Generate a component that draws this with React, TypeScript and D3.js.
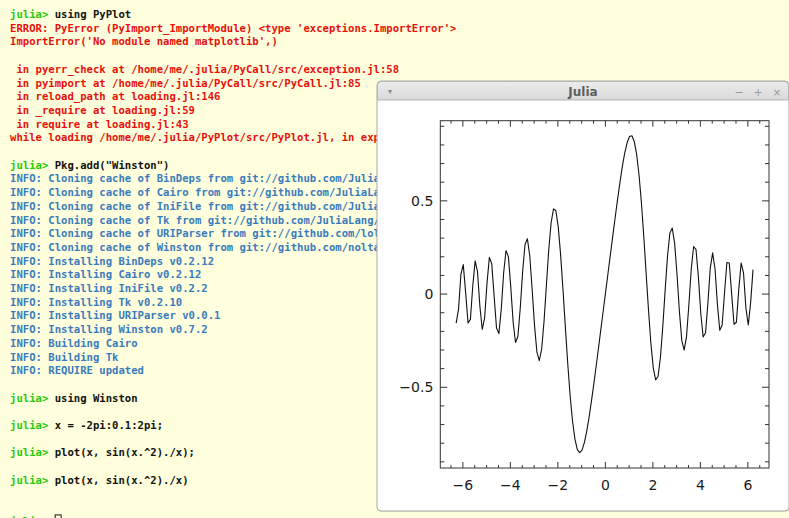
import * as d3 from 'd3';

const XS = [
  -6.283, -6.183, -6.083, -5.983, -5.883, -5.783, -5.683, -5.583, -5.483, -5.383,
  -5.283, -5.183, -5.083, -4.983, -4.883, -4.783, -4.683, -4.583, -4.483, -4.383,
  -4.283, -4.183, -4.083, -3.983, -3.883, -3.783, -3.683, -3.583, -3.483, -3.383,
  -3.283, -3.183, -3.083, -2.983, -2.883, -2.783, -2.683, -2.583, -2.483, -2.383,
  -2.283, -2.183, -2.083, -1.983, -1.883, -1.783, -1.683, -1.583, -1.483, -1.383,
  -1.283, -1.183, -1.083, -0.983, -0.883, -0.783, -0.683, -0.583, -0.483, -0.383,
  -0.283, -0.183, -0.083, 0.017, 0.117, 0.217, 0.317, 0.417, 0.517, 0.617,
  0.717, 0.817, 0.917, 1.017, 1.117, 1.217, 1.317, 1.417, 1.517, 1.617,
  1.717, 1.817, 1.917, 2.017, 2.117, 2.217, 2.317, 2.417, 2.517, 2.617,
  2.717, 2.817, 2.917, 3.017, 3.117, 3.217, 3.317, 3.417, 3.517, 3.617,
  3.717, 3.817, 3.917, 4.017, 4.117, 4.217, 4.317, 4.417, 4.517, 4.617,
  4.717, 4.817, 4.917, 5.017, 5.117, 5.217, 5.317, 5.417, 5.517, 5.617,
  5.717, 5.817, 5.917, 6.017, 6.117, 6.217,
];

const YS = [
  -0.156, -0.082, 0.105, 0.158, 0.009, -0.155, -0.136, 0.043, 0.178, 0.12,
  -0.067, -0.19, -0.128, 0.059, 0.197, 0.162, -0.013, -0.182, -0.212, -0.081,
  0.113, 0.233, 0.201, 0.039, -0.151, -0.26, -0.228, -0.075, 0.121, 0.266,
  0.297, 0.204, 0.026, -0.168, -0.311, -0.357, -0.296, -0.147, 0.047, 0.238,
  0.384, 0.457, 0.447, 0.359, 0.209, 0.021, -0.18, -0.375, -0.545, -0.681,
  -0.777, -0.833, -0.851, -0.837, -0.796, -0.735, -0.659, -0.572, -0.479, -0.382,
  -0.283, -0.183, -0.083, 0.017, 0.117, 0.217, 0.316, 0.415, 0.511, 0.602,
  0.686, 0.758, 0.813, 0.845, 0.849, 0.818, 0.749, 0.64, 0.491, 0.311,
  0.112, -0.087, -0.265, -0.396, -0.46, -0.442, -0.342, -0.177, 0.02, 0.204,
  0.328, 0.354, 0.272, 0.105, -0.092, -0.248, -0.301, -0.228, -0.056, 0.136,
  0.255, 0.238, 0.092, -0.103, -0.23, -0.208, -0.049, 0.139, 0.221, 0.136,
  -0.054, -0.194, -0.166, 0.007, 0.169, 0.167, 0.001, -0.162, -0.151, 0.024,
  0.167, 0.114, -0.074, -0.166, -0.046, 0.131,
];

const X_TICKS = [-6, -4, -2, 0, 2, 4, 6];
const X_TICK_LABELS = ['−6', '−4', '−2', '0', '2', '4', '6'];
const Y_TICKS = [-0.5, 0, 0.5];
const Y_TICK_LABELS = ['−0.5', '0', '0.5'];

type Kind = 'prompt' | 'cmd' | 'err' | 'info';
type Line = [Kind, string][];

const P = (cmd: string): Line => [['prompt', 'julia> '], ['cmd', cmd]];
const E = (s: string): Line => [['err', s]];
const I = (s: string): Line => [['info', s]];

const TERMINAL: Line[] = [
  P('using PyPlot'),
  E("ERROR: PyError (PyImport_ImportModule) <type 'exceptions.ImportError'>"),
  E("ImportError('No module named matplotlib',)"),
  [],
  E(' in pyerr_check at /home/me/.julia/PyCall/src/exception.jl:58'),
  E(' in pyimport at /home/me/.julia/PyCall/src/PyCall.jl:85'),
  E(' in reload_path at loading.jl:146'),
  E(' in _require at loading.jl:59'),
  E(' in require at loading.jl:43'),
  E('while loading /home/me/.julia/PyPlot/src/PyPlot.jl, in expression starting on line 1'),
  [],
  P('Pkg.add("Winston")'),
  I('INFO: Cloning cache of BinDeps from git://github.com/JuliaLang/BinDeps.jl.git'),
  I('INFO: Cloning cache of Cairo from git://github.com/JuliaLang/Cairo.jl.git'),
  I('INFO: Cloning cache of IniFile from git://github.com/JuliaLang/IniFile.jl.git'),
  I('INFO: Cloning cache of Tk from git://github.com/JuliaLang/Tk.jl.git'),
  I('INFO: Cloning cache of URIParser from git://github.com/loladiro/URIParser.jl.git'),
  I('INFO: Cloning cache of Winston from git://github.com/nolta/Winston.jl.git'),
  I('INFO: Installing BinDeps v0.2.12'),
  I('INFO: Installing Cairo v0.2.12'),
  I('INFO: Installing IniFile v0.2.2'),
  I('INFO: Installing Tk v0.2.10'),
  I('INFO: Installing URIParser v0.0.1'),
  I('INFO: Installing Winston v0.7.2'),
  I('INFO: Building Cairo'),
  I('INFO: Building Tk'),
  I('INFO: REQUIRE updated'),
  [],
  P('using Winston'),
  [],
  P('x = -2pi:0.1:2pi;'),
  [],
  P('plot(x, sin(x.^2)./x);'),
  [],
  P('plot(x, sin(x.^2)./x)'),
  [],
  [],
  P(''),
];

const COLORS: Record<Kind, string> = {
  prompt: '#1fcc0f',
  cmd: '#111111',
  err: '#e8100c',
  info: '#3a7bbd',
};

const W = 789;
const H = 518;
const FONT_SIZE = 10.6;
const CHAR_W = 6.38;
const LINE_H = 13.7;
const TEXT_X = 10;

export default function App() {
  const win = { x: 377, y: 81, w: 412, h: 430, bar: 19 };
  const frame = { left: 440.3, right: 769, top: 120.7, bottom: 468 };

  const x = d3.scaleLinear().domain([-6.95, 6.89]).range([frame.left, frame.right]);
  const y = d3.scaleLinear().domain([-0.933, 0.93]).range([frame.bottom, frame.top]);

  const line = d3
    .line<number>()
    .x((_, i) => x(XS[i]))
    .y((d) => y(d));

  const xMinor = d3.range(-6.5, 6.51, 0.5).filter((v) => Math.abs(v % 2) > 1e-6);
  const yMinor = d3.range(-0.9, 0.91, 0.1).filter((v) => Math.abs(Math.round(v * 10) % 5) !== 0);

  const lastLine = TERMINAL.length - 1;
  const lineY = (i: number) => 15 + i * LINE_H;
  // lines hidden behind the plot window only show up to its left edge
  const maxCols = (i: number) => {
    const ly = lineY(i);
    if (ly + 6 < win.y || ly - 6 > win.y + win.h) return Infinity;
    return Math.ceil((win.x - TEXT_X) / CHAR_W);
  };

  return (
    <svg
      width={W}
      height={H}
      style={{ position: 'absolute', left: 0, top: 0 }}
      xmlns="http://www.w3.org/2000/svg"
    >
      <defs>
        <linearGradient id="bar" x1="0" y1="0" x2="0" y2="1">
          <stop offset="0" stopColor="#ececec" />
          <stop offset="1" stopColor="#d9d9d9" />
        </linearGradient>
      </defs>
      <rect width={W} height={H} fill="#ffffdd" />

      {/* terminal */}
      <g fontFamily="'DejaVu Sans Mono', monospace" fontSize={FONT_SIZE} fontWeight="bold">
        {TERMINAL.map((segs, i) => {
          let col = 0;
          const limit = maxCols(i);
          return (
            <text key={i} x={TEXT_X} y={lineY(i) + 3} xmlSpace="preserve" style={{ whiteSpace: 'pre' }}>
              {segs.map(([kind, s], j) => {
                const shown = s.slice(0, Math.max(0, limit - col));
                const t = (
                  <tspan key={j} x={TEXT_X + col * CHAR_W} fill={COLORS[kind]}>
                    {shown}
                  </tspan>
                );
                col += s.length;
                return t;
              })}
            </text>
          );
        })}
        <rect
          x={TEXT_X + 7 * CHAR_W + 0.5}
          y={lineY(lastLine) - 7}
          width={6}
          height={10}
          fill="none"
          stroke="#111"
          strokeWidth={1}
        />
      </g>

      {/* plot window */}
      <g>
        <rect x={win.x + 1} y={win.y + 1} width={win.w} height={win.h} rx={4} fill="#000" opacity={0.08} />
        <rect x={win.x} y={win.y} width={win.w} height={win.h} rx={4} fill="#ffffff" stroke="#a9a9a9" />
        <path
          d={`M${win.x + 0.5},${win.y + win.bar} V${win.y + 4} Q${win.x + 0.5},${win.y + 0.5} ${win.x + 4},${win.y + 0.5} H${win.x + win.w - 4} Q${win.x + win.w - 0.5},${win.y + 0.5} ${win.x + win.w - 0.5},${win.y + 4} V${win.y + win.bar} Z`}
          fill="url(#bar)"
          stroke="#b5b5b5"
        />
        <text x={win.x + 13} y={win.y + 12.5} fontSize={8} fill="#8a8a8a" textAnchor="middle" fontFamily="'DejaVu Sans'">
          ▾
        </text>
        <text
          x={win.x + win.w / 2}
          y={win.y + 14.5}
          fontSize={12}
          fontWeight="bold"
          fill="#5e5e5e"
          textAnchor="middle"
          fontFamily="'DejaVu Sans', sans-serif"
        >
          Julia
        </text>
        <g fill="#9a9a9a" fontFamily="'DejaVu Sans', sans-serif" fontSize={11} textAnchor="middle">
          <text x={739} y={win.y + 14.5}>−</text>
          <text x={758} y={win.y + 14.5}>+</text>
          <text x={777} y={win.y + 14.5} fontSize={10}>×</text>
        </g>
      </g>

      {/* axes */}
      <g stroke="#333" strokeWidth={1} fill="none">
        <rect
          x={frame.left}
          y={frame.top}
          width={frame.right - frame.left}
          height={frame.bottom - frame.top}
        />
        {X_TICKS.map((v) => (
          <g key={`xt${v}`}>
            <line x1={x(v)} x2={x(v)} y1={frame.bottom} y2={frame.bottom - 6} />
            <line x1={x(v)} x2={x(v)} y1={frame.top} y2={frame.top + 6} />
          </g>
        ))}
        {xMinor.map((v) => (
          <g key={`xm${v}`}>
            <line x1={x(v)} x2={x(v)} y1={frame.bottom} y2={frame.bottom - 3} />
            <line x1={x(v)} x2={x(v)} y1={frame.top} y2={frame.top + 3} />
          </g>
        ))}
        {Y_TICKS.map((v) => (
          <g key={`yt${v}`}>
            <line x1={frame.left} x2={frame.left + 7} y1={y(v)} y2={y(v)} />
            <line x1={frame.right} x2={frame.right - 7} y1={y(v)} y2={y(v)} />
          </g>
        ))}
        {yMinor.map((v) => (
          <g key={`ym${v}`}>
            <line x1={frame.left} x2={frame.left + 4} y1={y(v)} y2={y(v)} />
            <line x1={frame.right} x2={frame.right - 4} y1={y(v)} y2={y(v)} />
          </g>
        ))}
      </g>
      <g fontFamily="'DejaVu Sans', sans-serif" fontSize={14} fill="#1a1a1a">
        {X_TICKS.map((v, i) => (
          <text key={`xl${v}`} x={x(v)} y={frame.bottom + 22} textAnchor="middle">
            {X_TICK_LABELS[i]}
          </text>
        ))}
        {Y_TICKS.map((v, i) => (
          <text key={`yl${v}`} x={frame.left - 7} y={y(v) + 5} textAnchor="end">
            {Y_TICK_LABELS[i]}
          </text>
        ))}
      </g>

      <path d={line(YS) ?? undefined} fill="none" stroke="#111" strokeWidth={1.1} strokeLinejoin="round" />
    </svg>
  );
}
